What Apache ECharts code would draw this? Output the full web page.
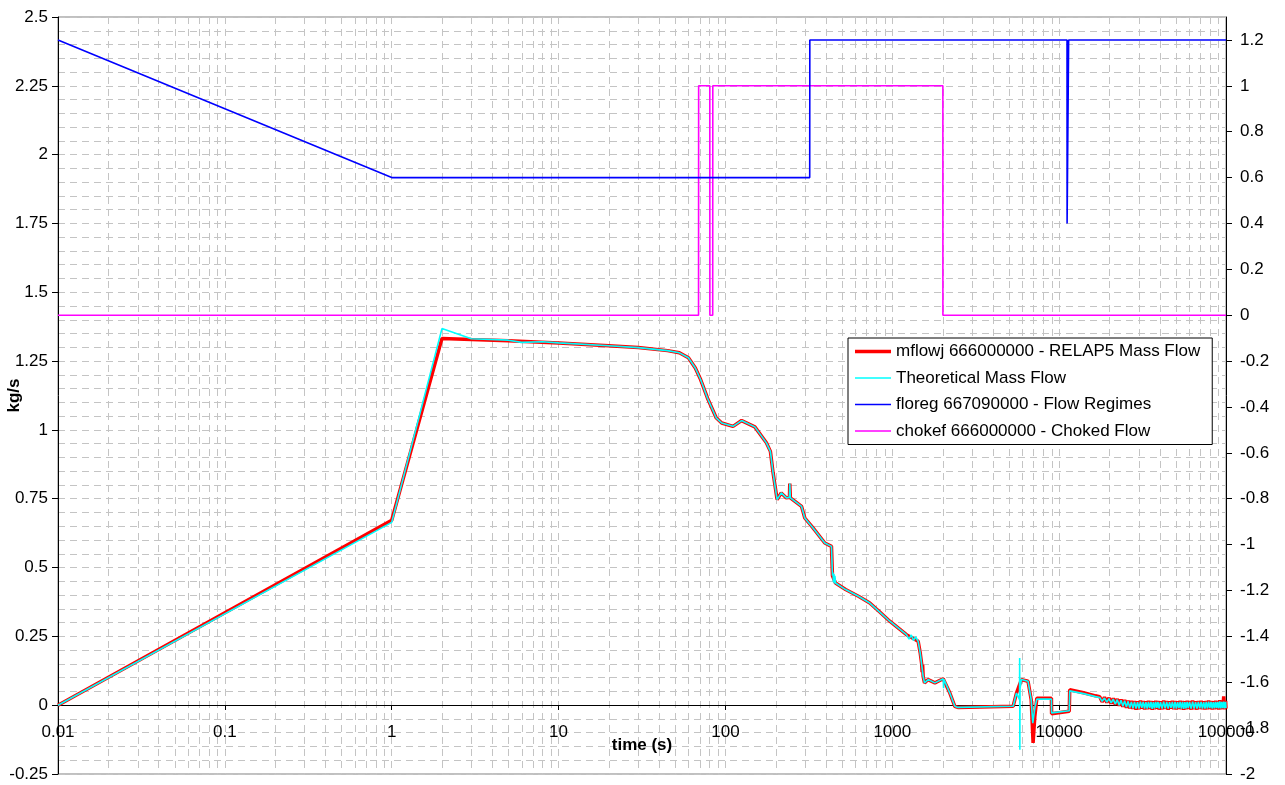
<!DOCTYPE html>
<html>
<head>
<meta charset="utf-8">
<script src="https://cdn.jsdelivr.net/npm/echarts@6/dist/echarts.min.js"></script>
<style>
html,body{margin:0;padding:0;background:#fff;}
#chart{width:1285px;height:785px;}
</style>
</head>
<body>
<div id="chart"></div>
<script>
// ---- data (time [s], value) ----
const seriesNames = [
  'mflowj 666000000 - RELAP5 Mass Flow',
  'Theoretical Mass Flow',
  'floreg 667090000 - Flow Regimes',
  'chokef 666000000 - Choked Flow'
];

const mflowjMain = [
  [0.01,0],[1,0.672],[2,1.332],[3,1.328],[5,1.324],[10,1.316],[20,1.306],[30,1.299],
  [45,1.288],[53,1.280],[60,1.262],[66,1.225],[71,1.183],[78,1.116],[88,1.044],[95,1.025],
  [111,1.013],[125,1.034],[150,1.011],[176,0.953],[186,0.922],[193,0.844],[204,0.747],
  [216,0.771],[232,0.753],[242,0.755],[243,0.805],[245,0.753],[286,0.722],[299,0.680],
  [335,0.644],[394,0.589],[432,0.577],[438,0.470],[457,0.444],[525,0.420],[631,0.395],
  [733,0.371],[832,0.341],[966,0.305],[1216,0.256],[1429,0.232],[1470,0.190],[1500,0.150],
  [1510,0.120],[1520,0.147],[1531,0.105],[1560,0.081],[1640,0.093],[1800,0.081],[2018,0.096],
  [2213,0.044],[2370,-0.004],[2470,-0.008],[5300,-0.004],[5550,0.044],[5940,0.093],
  [6510,0.087],[6800,0.020],[6980,-0.137],[7150,-0.040],[7350,0.025],[8990,0.025],
  [9010,-0.031],[11500,-0.022],[11570,0.056],[14000,0.045],[16500,0.034],
  [17500,0.031],[18100,0.012],[18700,0.029],[19300,0.010],[19900,0.027],[20500,0.006],
  [21100,0.025],[21700,0.002],[22300,0.023],[22900,-0.002],[23500,0.021],[24100,-0.006],
  [24700,0.019],[25300,-0.010],[25900,0.017],[26500,-0.012]
];

const theoreticalMain = [
  [0.01,0],[1,0.664],[2,1.368],[3,1.331],[5,1.326],[6,1.318],[8,1.320],[10,1.316],
  [20,1.306],[30,1.299],[45,1.288],[53,1.280],[60,1.262],[66,1.225],[71,1.183],[78,1.116],
  [88,1.044],[95,1.025],[111,1.013],[125,1.034],[150,1.011],[176,0.953],[186,0.922],
  [193,0.844],[204,0.747],[216,0.771],[232,0.753],[242,0.755],[243,0.805],[245,0.753],
  [286,0.722],[299,0.680],[335,0.644],[394,0.589],[432,0.577],[438,0.470],[441,0.482],
  [444,0.447],[447,0.476],[450,0.442],[453,0.470],[457,0.444],[525,0.420],[631,0.395],
  [733,0.371],[832,0.341],[966,0.305],[1216,0.256],[1260,0.240],[1300,0.255],[1340,0.235],
  [1380,0.248],[1429,0.232],[1470,0.190],[1531,0.105],[1560,0.081],[1640,0.093],
  [1800,0.081],[2018,0.096],[2030,0.062],[2040,0.094],[2213,0.044],[2370,-0.004],
  [2470,-0.008],[5300,-0.004],[5550,0.044],[5790,0.020],[5800,0.171],[5815,-0.162],
  [5830,0.060],[5940,0.093],[6510,0.087],[6800,0.020],[6950,-0.065],[7150,-0.010],
  [7350,0.022],[8990,0.022],[9010,-0.028],[11500,-0.020],[11570,0.052],[14000,0.042],
  [16500,0.031],[17500,0.028],[18100,0.014],[18700,0.026],[19300,0.011],[19900,0.024],
  [20500,0.008],[21100,0.022],[21700,0.004],[22300,0.020],[22900,0.000],[23500,0.018],
  [24100,-0.004],[24700,0.016],[25300,-0.007],[25900,0.014],[26500,-0.009]
];

// noisy tail (t >= 27000 s)
const tailT = [
  27100,27700,28300,28900,29500,30100,30700,31300,31900,32500,33100,33700,34300,34900,
  35500,36100,36700,37300,37900,38500,39100,39700,40500,41400,42300,43200,44100,45000,
  45900,46800,47700,48600,49500,50400,51300,52200,53100,54000,54900,55800,56700,57600,
  58500,59400,60500,61800,63100,64400,65700,67000,68300,69600,70900,72200,73500,74800,
  76100,77400,78700,80000,81300,82600,83900,85200,86500,87800,89100,90400,91700,93000,
  94300,95600,96900,98200,99500,100000
];
const tailRed = [
  0.016,-0.014,0.015,-0.016,0.014,-0.015,0.017,-0.013,0.015,-0.016,0.014,-0.015,0.016,-0.014,
  0.015,-0.017,0.014,-0.015,0.016,-0.013,0.015,-0.016,0.014,-0.015,0.017,-0.014,0.015,-0.016,
  0.014,-0.013,0.016,-0.015,0.015,-0.016,0.014,-0.014,0.016,-0.015,0.015,-0.017,0.014,-0.015,
  0.016,-0.014,0.015,-0.016,0.017,-0.015,0.014,-0.016,0.015,-0.014,0.016,-0.015,0.014,-0.016,
  0.015,-0.015,0.017,-0.014,0.015,-0.016,0.014,-0.015,0.016,-0.014,0.015,-0.016,0.018,-0.015,
  0.016,-0.014,0.032,-0.015,0.016,-0.012
];
const tailCyan = [
  0.012,-0.011,0.012,-0.012,0.011,-0.012,0.013,-0.010,0.012,-0.012,0.011,-0.012,0.012,-0.011,
  0.012,-0.013,0.011,-0.012,0.012,-0.010,0.012,-0.012,0.011,-0.012,0.013,-0.011,0.012,-0.012,
  0.011,-0.010,0.012,-0.012,0.012,-0.012,0.011,-0.011,0.012,-0.012,0.012,-0.013,0.011,-0.012,
  0.012,-0.011,0.012,-0.012,0.013,-0.012,0.011,-0.012,0.012,-0.011,0.012,-0.012,0.011,-0.012,
  0.012,-0.012,0.013,-0.011,0.012,-0.012,0.011,-0.012,0.012,-0.011,0.012,-0.012,0.014,-0.012,
  0.012,-0.011,0.013,-0.012,0.012,-0.010
];

const floreg = [
  [0.01,1.2],[1,0.6],[320,0.6],[320.5,1.2],[11150,1.2],[11160,0.4],[11390,0.4],[11400,1.2],[100000,1.2]
];

const chokef = [
  [0.01,0],[69,0],[69.1,1],[80.6,1],[80.7,0],[83.9,0],[84,1],[2010,1],[2011,0],[100000,0]
];

const mflowj = mflowjMain.concat(tailT.map((t, i) => [t, tailRed[i]]));
const theoretical = theoreticalMain.concat(tailT.map((t, i) => [t, tailCyan[i]]));

// ---- axes ----
const xDecades = [0.01,0.1,1,10,100,1000,10000];
const xMinorSteps = [2,3,4,5,6,7,8,9];
const xMinorGrid = [];
xDecades.forEach(d => xMinorSteps.forEach(s => xMinorGrid.push(+(d*s).toPrecision(3))));

const FONT = "'Liberation Sans', Arial, sans-serif";
const FS = 17;
const gridColor = '#c4c4c4';
const gridDash = [7,5];

const chart = echarts.init(document.getElementById('chart'), null, {renderer:'canvas'});

const option = {
  backgroundColor:'#ffffff',
  animation:false,
  textStyle:{fontFamily:FONT, color:'#000'},
  grid:{left:58, right:59, top:17, bottom:11, containLabel:false, outerBoundsMode:'none',
        show:true, borderColor:'#808080', borderWidth:1, backgroundColor:'transparent'},
  legend:{
    orient:'vertical', left:848, top:338,
    data:[
      {name:seriesNames[0], icon:'path://M0 0H36V3.6H0Z'},
      {name:seriesNames[1], icon:'path://M0 0H36V1.6H0Z'},
      {name:seriesNames[2], icon:'path://M0 0H36V1.6H0Z'},
      {name:seriesNames[3], icon:'path://M0 0H36V1.6H0Z'}
    ],
    itemWidth:36, itemHeight:14, itemGap:9.5,
    padding:[5,12,5,7],
    backgroundColor:'#fff', borderColor:'#000', borderWidth:1,
    textStyle:{fontFamily:FONT, fontSize:FS, color:'#000'}
  },
  xAxis:{
    type:'log', logBase:10, min:0.01, max:100000,
    position:'bottom', offset:-69,
    name:'time (s)', nameLocation:'middle', nameGap:32, nameMoveOverlap:false,
    nameTextStyle:{fontFamily:FONT, fontSize:FS, fontWeight:'bold', color:'#000'},
    axisLine:{onZero:false, lineStyle:{color:'#000', width:1}},
    axisTick:{show:true, inside:false, length:5, lineStyle:{color:'#000'}},
    axisLabel:{fontFamily:FONT, fontSize:FS, color:'#000', margin:19, formatter:v => String(v)},
    splitLine:{show:true, lineStyle:{color:gridColor, type:gridDash, width:1}},
    minorTick:{show:false},
    minorSplitLine:{show:false}
  },
  yAxis:[
    {
      type:'value', min:-0.25, max:2.5, interval:0.25, position:'left',
      name:'kg/s', nameLocation:'middle', nameGap:35, nameRotate:90, nameMoveOverlap:false,
      nameTextStyle:{fontFamily:FONT, fontSize:FS, fontWeight:'bold', color:'#000'},
      axisLine:{show:true, onZero:false, lineStyle:{color:'#000', width:1}},
      axisTick:{show:true, inside:false, length:6, lineStyle:{color:'#000'}},
      axisLabel:{fontFamily:FONT, fontSize:FS, color:'#000', margin:10},
      splitLine:{show:true, lineStyle:{color:gridColor, type:gridDash, width:1}},
      minorTick:{show:false, splitNumber:5},
      minorSplitLine:{show:true, lineStyle:{color:gridColor, type:gridDash, width:1}}
    },
    {
      type:'value', min:-2, max:1.3, interval:0.2, position:'right',
      axisLine:{show:true, onZero:false, lineStyle:{color:'#000', width:1}},
      axisTick:{show:true, inside:false, length:6, lineStyle:{color:'#000'}},
      axisLabel:{fontFamily:FONT, fontSize:FS, color:'#000', margin:14, showMaxLabel:false},
      splitLine:{show:false}
    }
  ],
  series:[
    {
      type:'custom', name:'minorGridX', silent:true, z:0, xAxisIndex:0, yAxisIndex:0,
      data:xMinorGrid.map(v => [v, 0]),
      encode:{x:0, y:1},
      clip:true,
      renderItem:function(params, api){
        const x = Math.round(api.coord([api.value(0), 0])[0]) + 0.5;
        const cs = params.coordSys;
        return {type:'line', silent:true,
          shape:{x1:x, y1:cs.y, x2:x, y2:cs.y + cs.height},
          style:{stroke:gridColor, lineWidth:1, lineDash:gridDash}};
      }
    },
    {
      name:seriesNames[0], type:'line', yAxisIndex:0, data:mflowj,
      showSymbol:false, symbol:'none', z:2,
      lineStyle:{color:'#ff0000', width:3.5}, itemStyle:{color:'#ff0000'}
    },
    {
      name:seriesNames[1], type:'line', yAxisIndex:0, data:theoretical,
      showSymbol:false, symbol:'none', z:2,
      lineStyle:{color:'#00ffff', width:1.6}, itemStyle:{color:'#00ffff'}
    },
    {
      name:seriesNames[2], type:'line', yAxisIndex:1, data:floreg,
      showSymbol:false, symbol:'none', z:4,
      lineStyle:{color:'#0000ff', width:1.6}, itemStyle:{color:'#0000ff'}
    },
    {
      name:seriesNames[3], type:'line', yAxisIndex:1, data:chokef,
      showSymbol:false, symbol:'none', z:3,
      lineStyle:{color:'#ff00ff', width:1.6}, itemStyle:{color:'#ff00ff'}
    }
  ]
};
chart.setOption(option);
</script>
</body>
</html>
